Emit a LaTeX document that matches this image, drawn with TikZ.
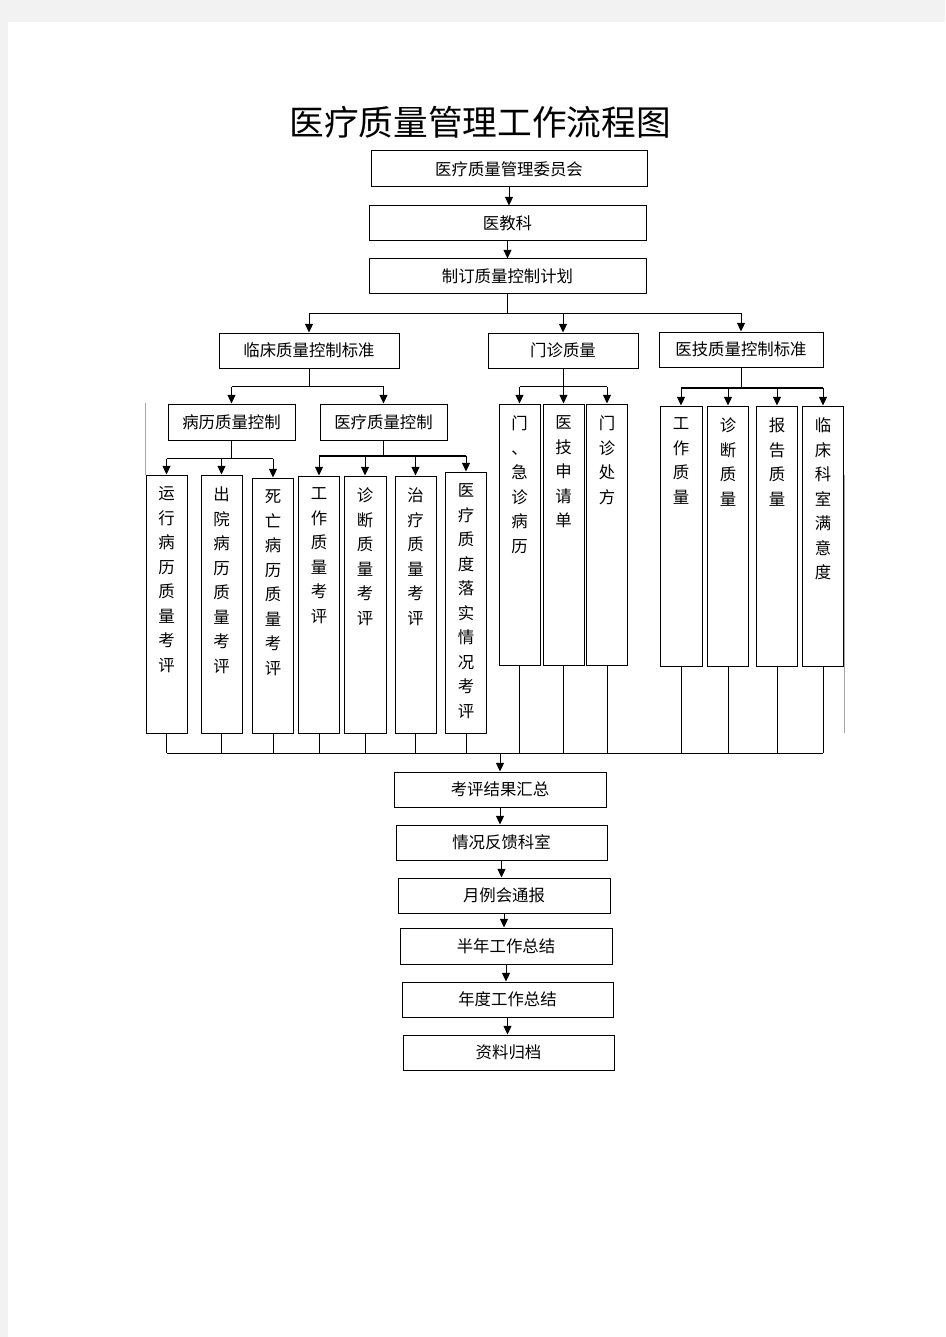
\documentclass[tikz,border=0pt]{standalone}
\usepackage{fontspec}
\setmainfont{Noto Sans CJK SC}
\usetikzlibrary{arrows.meta}

\begin{document}
\begin{tikzpicture}[x=0.75pt,y=0.75pt,yscale=-1,xscale=1,
	box/.style={draw,line width=0.75pt,inner sep=0pt,minimum height=26.25pt,font=\fontsize{12.3}{14}\selectfont},
	col/.style={draw,line width=0.75pt,inner sep=0pt,minimum width=30.75pt},
	coltext/.style={anchor=north,inner sep=0pt,align=center,font=\fontsize{12.3}{18.4}\selectfont},
	link/.style={line width=0.75pt},
	bus/.style={line width=1.5pt},
	arr/.style={line width=0.75pt,-{Triangle[width=6pt,length=6.5pt]}}]
		\useasboundingbox (0,0) rectangle (945,1337);
		\fill[black!5] (0,0) rectangle (945,1337);
		\fill[white] (8,22) rectangle (945,1337);
		\draw[black!35,line width=0.5pt] (145,403) -- (145,475);
		\draw[black!35,line width=0.5pt] (844,475) -- (844,733);

		\node (title) at (480,122) {\fontsize{26}{30}\selectfont 医疗质量管理工作流程图};

		\node[box,minimum width=207pt,minimum height=27pt] (p1) at (509,169) {医疗质量管理委员会};
		\node[box,minimum width=207.75pt] (p2) at (507.5,223.5) {医教科};
		\node[box,minimum width=207.75pt] (p3) at (507.5,276.5) {制订质量控制计划};

		\node[box,minimum width=135pt] (lc) at (309,350.5) {临床质量控制标准};
		\node[box,minimum width=112.5pt] (mz) at (563,350.5) {门诊质量};
		\node[box,minimum width=123pt] (yj) at (741,349.5) {医技质量控制标准};

		\node[box,minimum width=95.25pt,minimum height=27pt] (bl) at (231.5,422) {病历质量控制};
		\node[box,minimum width=95.25pt,minimum height=27pt] (yl) at (383.5,422) {医疗质量控制};

		\node[col,minimum height=193.5pt] (a1) at (166.5,604) {};
		\node[col,minimum height=193.5pt] (a2) at (221.5,604) {};
		\node[col,minimum height=191.25pt] (a3) at (273,605.5) {};
		\node[col,minimum height=192.75pt] (b1) at (319,604.5) {};
		\node[col,minimum height=192.75pt,minimum width=31.5pt] (b2) at (365,604.5) {};
		\node[col,minimum height=192.75pt] (b3) at (415.5,604.5) {};
		\node[col,minimum height=195.75pt] (b4) at (466,602.5) {};
		\node[col,minimum height=195.75pt] (c1) at (519.5,534.5) {};
		\node[col,minimum height=195.75pt] (c2) at (563.5,534.5) {};
		\node[col,minimum height=195.75pt] (c3) at (607,534.5) {};
		\node[col,minimum height=195pt,minimum width=31.5pt] (d1) at (681,536) {};
		\node[col,minimum height=195pt] (d2) at (728,536) {};
		\node[col,minimum height=195pt] (d3) at (777,536) {};
		\node[col,minimum height=195pt] (d4) at (823,536) {};

		\node[coltext] (a1t) at ([yshift=9pt]a1.north) {运\\行\\病\\历\\质\\量\\考\\评};
		\node[coltext] (a2t) at ([yshift=9pt]a2.north) {出\\院\\病\\历\\质\\量\\考\\评};
		\node[coltext] (a3t) at ([yshift=9pt]a3.north) {死\\亡\\病\\历\\质\\量\\考\\评};
		\node[coltext] (b1t) at ([yshift=9pt]b1.north) {工\\作\\质\\量\\考\\评};
		\node[coltext] (b2t) at ([yshift=9pt]b2.north) {诊\\断\\质\\量\\考\\评};
		\node[coltext] (b3t) at ([yshift=9pt]b3.north) {治\\疗\\质\\量\\考\\评};
		\node[coltext] (b4t) at ([yshift=9pt]b4.north) {医\\疗\\质\\度\\落\\实\\情\\况\\考\\评};
		\node[coltext] (c1t) at ([yshift=9pt]c1.north) {门\\、\\急\\诊\\病\\历};
		\node[coltext] (c2t) at ([yshift=9pt]c2.north) {医\\技\\申\\请\\单};
		\node[coltext] (c3t) at ([yshift=9pt]c3.north) {门\\诊\\处\\方};
		\node[coltext] (d1t) at ([yshift=9pt]d1.north) {工\\作\\质\\量};
		\node[coltext] (d2t) at ([yshift=9pt]d2.north) {诊\\断\\质\\量};
		\node[coltext] (d3t) at ([yshift=9pt]d3.north) {报\\告\\质\\量};
		\node[coltext] (d4t) at ([yshift=9pt]d4.north) {临\\床\\科\\室\\满\\意\\度};

		\node[box,minimum width=159pt] (s1) at (500,789.5) {考评结果汇总};
		\node[box,minimum width=158.25pt] (s2) at (501.5,842.5) {情况反馈科室};
		\node[box,minimum width=159pt] (s3) at (504,895.5) {月例会通报};
		\node[box,minimum width=159pt,minimum height=27pt] (s4) at (506,946) {半年工作总结};
		\node[box,minimum width=158.25pt] (s5) at (507.5,999.5) {年度工作总结};
		\node[box,minimum width=158.25pt] (s6) at (508.5,1052.5) {资料归档};

		\draw[arr] (p1.south) -- (p1.south |- p2.north);
		\draw[arr] (p2.south) -- (p2.south |- p3.north);

		\draw[link] (p3.south) -- ++(0,19) coordinate (t0);
		\draw[link] (t0 -| lc.north) -- (t0 -| yj.north);
		\foreach \n in {lc,mz,yj}
			\draw[arr] (t0 -| \n.north) -- (\n.north);

		\draw[link] (lc.south) -- ++(0,18) coordinate (t1);
		\draw[link] (t1 -| bl.north) -- (t1 -| yl.north);
		\foreach \n in {bl,yl}
			\draw[arr] (t1 -| \n.north) -- (\n.north);

		\draw[link] (bl.south) -- ++(0,18) coordinate (t2);
		\draw[link] (t2 -| a1.north) -- (t2 -| a3.north);
		\foreach \n in {a1,a2,a3}
			\draw[arr] (t2 -| \n.north) -- (\n.north);

		\draw[link] (yl.south) -- ++(0,15) coordinate (t3);
		\draw[bus] (t3 -| b1.north) -- (t3 -| b4.north);
		\foreach \n in {b1,b2,b3,b4}
			\draw[arr] (t3 -| \n.north) -- (\n.north);

		\draw[link] (mz.south) -- ++(0,18) coordinate (t4);
		\draw[link] (t4 -| c1.north) -- (t4 -| c3.north);
		\foreach \n in {c1,c2,c3}
			\draw[arr] (t4 -| \n.north) -- (\n.north);

		\draw[link] (yj.south) -- ++(0,20) coordinate (t5);
		\draw[bus] (t5 -| d1.north) -- (t5 -| d4.north);
		\foreach \n in {d1,d2,d3,d4}
			\draw[arr] (t5 -| \n.north) -- (\n.north);

		\coordinate (sum) at (500,753);
		\draw[link] (sum -| a1.south) -- (sum -| d4.south);
		\foreach \n in {a1,a2,a3,b1,b2,b3,b4,c1,c2,c3,d1,d2,d3,d4}
			\draw[link] (\n.south) -- (sum -| \n.south);
		\draw[arr] (sum -| s1.north) -- (s1.north);

		\draw[arr] (s1.south) -- (s1.south |- s2.north);
		\draw[arr] (s2.south) -- (s2.south |- s3.north);
		\draw[arr] (s3.south) -- (s3.south |- s4.north);
		\draw[arr] (s4.south) -- (s4.south |- s5.north);
		\draw[arr] (s5.south) -- (s5.south |- s6.north);
	\end{tikzpicture}
\end{document}
